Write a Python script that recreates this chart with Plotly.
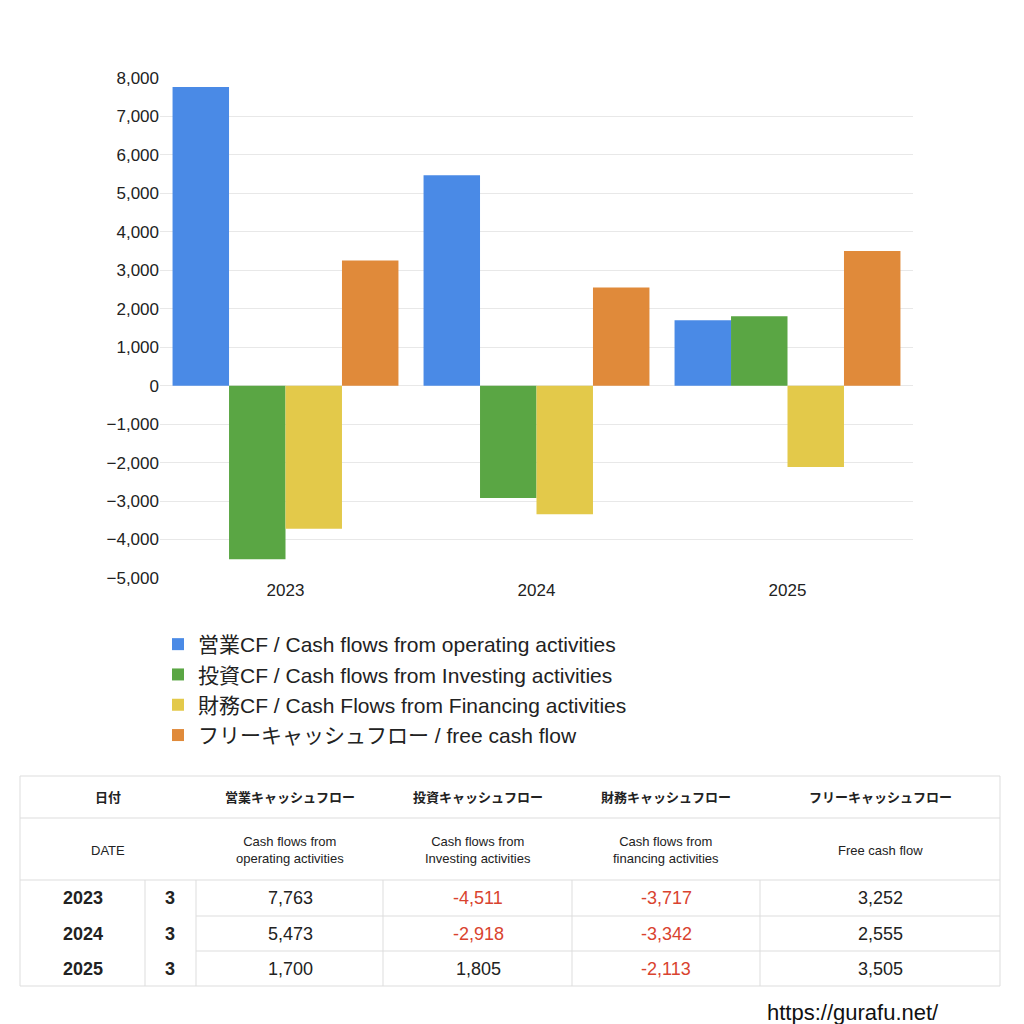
import plotly.graph_objects as go

years = ["2023", "2024", "2025"]
months = ["3", "3", "3"]
operating = [7763, 5473, 1700]
investing = [-4511, -2918, 1805]
financing = [-3717, -3342, -2113]
free_cf = [3252, 2555, 3505]

series_names = [
    "営業CF / Cash flows from operating activities",
    "投資CF / Cash flows from Investing activities",
    "財務CF / Cash Flows from Financing activities",
    "フリーキャッシュフロー / free cash flow",
]
colors = ["#4a8ae6", "#5aa644", "#e3c94a", "#e08a3a"]
header_jp = ["日付", "営業キャッシュフロー", "投資キャッシュフロー", "財務キャッシュフロー", "フリーキャッシュフロー"]
header_en = ["DATE", "Cash flows from<br>operating activities", "Cash flows from<br>Investing activities",
             "Cash flows from<br>financing activities", "Free cash flow"]
y_ticks = [-5000, -4000, -3000, -2000, -1000, 0, 1000, 2000, 3000, 4000, 5000, 6000, 7000, 8000]

W = 1024
XOFF = 8
def px(x): return (x - XOFF) / W
def py(y): return 1 - y / W

fig = go.Figure()
for name, vals, c in zip(series_names, [operating, investing, financing, free_cf], colors):
    fig.add_trace(go.Bar(x=years, y=vals, name=name, marker=dict(color=c, line=dict(width=0))))

font = "Liberation Sans, Noto Sans CJK JP, sans-serif"
fig.update_layout(
    width=1024, height=1024, margin=dict(l=0, r=0, t=0, b=0),
    paper_bgcolor="white", plot_bgcolor="white",
    barmode="group", bargap=0.1, bargroupgap=0.0,
    font=dict(family=font, color="#222"),
    xaxis=dict(domain=[px(160), px(913)], tickfont=dict(size=17), showgrid=False, ticks="", automargin=False),
    yaxis=dict(domain=[py(570), py(70)], range=[-5000, 8000], tickvals=y_ticks, automargin=False,
               tickformat=",d", tickfont=dict(size=17), gridcolor="#e8e8e8", zeroline=False),
    legend=dict(x=px(158), y=py(616), xanchor="left", yanchor="top", font=dict(size=21),
                bgcolor="rgba(0,0,0,0)", tracegroupgap=0, itemwidth=30),
    showlegend=True,
)

shapes = []
anns = []
def hline(y, x0, x1):
    shapes.append(dict(type="line", xref="paper", yref="paper", x0=px(x0), x1=px(x1), y0=py(y), y1=py(y),
                       line=dict(color="#dddddd", width=1)))
def vline(x, y0, y1):
    shapes.append(dict(type="line", xref="paper", yref="paper", x0=px(x), x1=px(x), y0=py(y0), y1=py(y1),
                       line=dict(color="#dddddd", width=1)))
def text(x, y, t, size=14, bold=False, color="#222"):
    anns.append(dict(xref="paper", yref="paper", x=px(x), y=py(y), text=f"<b>{t}</b>" if bold else t,
                     showarrow=False, font=dict(size=size, color=color), xanchor="center", yanchor="middle"))

hline(768, 20, 1000); hline(810, 20, 1000); hline(872, 20, 1000); hline(978, 20, 1000)
hline(908, 196, 1000); hline(943, 196, 1000)
vline(20, 768, 978); vline(1000, 768, 978)
for x in [145, 196, 383, 572, 760]:
    vline(x, 872, 978)

col_cx = [108, 290, 478, 666, 880]
for cx, j, e in zip(col_cx, header_jp, header_en):
    text(cx, 789, j, 13, True)
    text(cx, 842, e, 13)

row_cy = [890, 926, 961]
val_cx = [290, 478, 666, 880]
for i, cy in enumerate(row_cy):
    text(83, cy, years[i], 18, True)
    text(170, cy, months[i], 18, True)
    for cx, arr in zip(val_cx, [operating, investing, financing, free_cf]):
        v = arr[i]
        text(cx, cy, f"{v:,}", 18, False, "#d9432f" if v < 0 else "#222")

text(853, 1004, "https://gurafu.net/", 22, False, "#111")
fig.update_layout(shapes=shapes, annotations=anns)
fig.write_html("out.html")
